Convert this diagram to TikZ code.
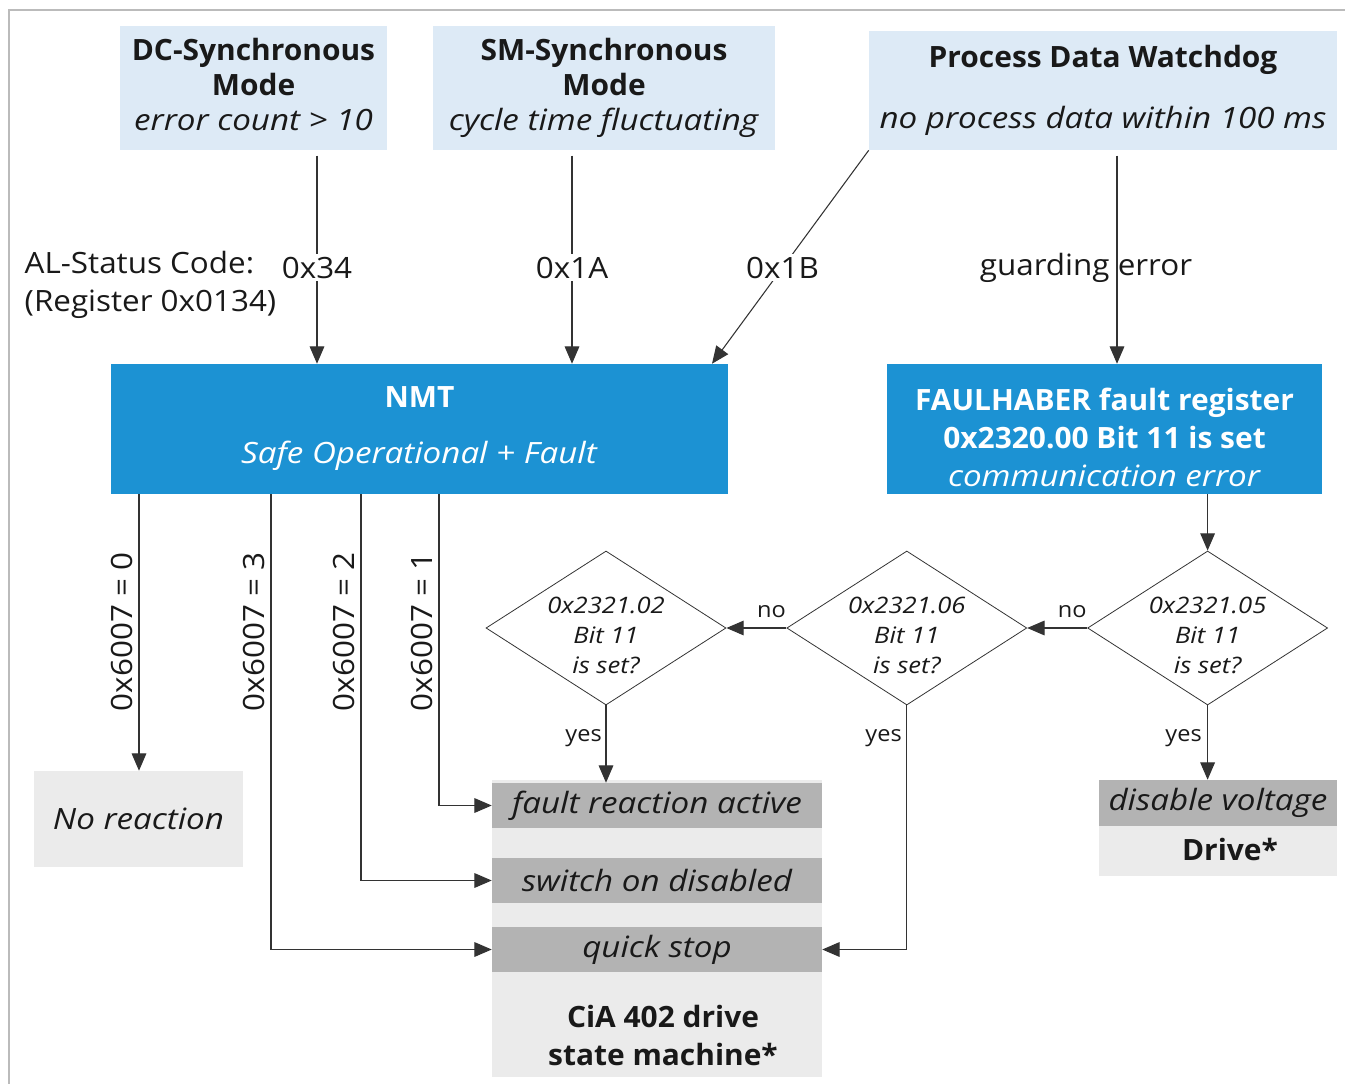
\documentclass[tikz,border=0pt]{standalone}
\usepackage{fontspec}
\setmainfont{Open Sans}[UprightFeatures={FakeStretch=1.07}, BoldFeatures={FakeStretch=1.02}, ItalicFeatures={FakeStretch=1.13}]
\usepackage{xcolor}
\usetikzlibrary{arrows.meta,positioning,shapes.geometric,calc}
\definecolor{srcblue}{HTML}{DDEAF6}
\definecolor{nmtblue}{HTML}{1C92D3}
\definecolor{boxgray}{HTML}{EBEBEB}
\definecolor{bargray}{HTML}{B3B3B3}
\definecolor{framegray}{HTML}{BBBBBB}
\newdimen\pxu \pxu=0.75pt

\begin{document}
\begin{tikzpicture}[x=0.75pt, y=-0.75pt, node distance=60\pxu,
  every node/.style={font=\fontsize{22}{26}\selectfont, text=black!90},
  srcbox/.style={fill=srcblue, align=center, inner sep=0pt},
  nmtbox/.style={fill=nmtblue, text=white, align=center, inner sep=0pt, minimum height=130\pxu},
  graybox/.style={fill=boxgray, inner sep=0pt},
  barbox/.style={fill=bargray, inner sep=0pt, minimum width=330\pxu, minimum height=45\pxu, font=\fontsize{22}{26}\selectfont\itshape},
  query/.style={draw=black!80, line width=0.6pt, diamond, aspect=1.56, inner sep=0pt, minimum width=240\pxu, minimum height=154\pxu},
  querytext/.style={align=center, font=\fontsize{17}{22.5}\selectfont\itshape},
  code/.style={fill=white, inner sep=2pt},
  vcode/.style={rotate=90, anchor=south, inner sep=3pt},
  small/.style={font=\fontsize{16.5}{20}\selectfont, inner sep=3pt},
  arr/.style={draw=black!80, line width=0.8pt, -{Triangle[length=13pt,width=11pt]}}]
\useasboundingbox (0,0) rectangle (1345,1084);
\draw[framegray, line width=1.2pt] (9,1084) -- (9,10) -- (1345,10);

% sources
\node[srcbox, minimum width=267\pxu, minimum height=124\pxu] (dc) at (253.5,88)
  {\textbf{DC-Synchronous}\\\textbf{Mode}\\\textit{error count > 10\vphantom{g}}};
\node[srcbox, minimum width=342\pxu, minimum height=124\pxu] (sm) at (604,88)
  {\textbf{SM-Synchronous}\\\textbf{Mode}\\\textit{cycle time fluctuating}};
\node[srcbox, minimum width=468\pxu, minimum height=119\pxu] (pdw) at (1103,90.5)
  {\textbf{Process Data Watchdog}\\[20pt]\textit{no process data within 100 ms}};
\node[anchor=west, align=left, font=\fontsize{22}{28.5}\selectfont] (alstat) at (20,285)
  {AL-Status Code:\\(Register 0x0134)};

% reactions
\node[nmtbox, minimum width=617\pxu] (nmt) at (419.5,429)
  {\textbf{NMT}\\[16pt]\textit{Safe Operational + Fault}};
\node[nmtbox, minimum width=435\pxu] (faul) at (1104.5,429) {};
\node[align=center, text=white, font=\fontsize{22}{28.5}\selectfont] (faultxt) at (1104.5,437)
  {\textbf{FAULHABER fault register}\\\textbf{0x2320.00 Bit 11 is set}\\\textit{communication error}};

\node[query] (d1) at (606,628) {};
\node[query, right=of d1] (d2) {};
\node[query, right=of d2] (d3) {};
\node[querytext] (q1) at ($(d1)+(0,7)$) {0x2321.02\\Bit 11\\is set?};
\node[querytext] (q2) at ($(d2)+(0,7)$) {0x2321.06\\Bit 11\\is set?};
\node[querytext] (q3) at ($(d3)+(0,7)$) {0x2321.05\\Bit 11\\is set?};

% drive state machine
\node[graybox, minimum width=209\pxu, minimum height=96\pxu, font=\fontsize{22}{26}\selectfont\itshape] (nr) at (138.5,819) {No reaction};
\node[graybox, minimum width=330\pxu, minimum height=297\pxu] (cia) at (657,928.5) {};
\node[barbox] (far) at (657,805.5) {fault reaction active};
\node[barbox] (sod) at (657,880.5) {switch on disabled};
\node[barbox] (qs) at (657,949.5) {quick stop};
\node[align=center, font=\fontsize{22}{28.5}\selectfont\bfseries] (ciatxt) at (663,1035) {CiA 402 drive\\state machine*};
\node[graybox, minimum width=238\pxu, minimum height=96\pxu] (drv) at (1218,828) {};
\node[barbox, minimum width=238\pxu, minimum height=46\pxu] (dv) at (1218,803) {disable voltage};
\node[font=\fontsize{22}{26}\selectfont\bfseries] (drvtxt) at (1230,849) {Drive*};

% status codes
\draw[arr, shorten <=4pt] (dc.south -| 317,0) -- (nmt.north -| 317,0) node[code, pos=0.55] (c34) {0x34};
\draw[arr, shorten <=4pt] (sm.south -| 572,0) -- (nmt.north -| 572,0) node[code, pos=0.55] (c1a) {0x1A};
\draw[arr] (pdw.south west) -- (nmt.north -| 712,0) node[code, pos=0.55] (c1b) {0x1B};
\draw[arr, shorten <=4pt] (pdw.south -| 1117,0) -- (faul.north -| 1117,0);
\node (guard) at (1086,268) {guarding error};

% NMT branches
\draw[arr] (nmt.south -| 139,0) -- (nr.north -| 139,0);
\draw[arr] (nmt.south -| 271,0) |- (qs.west);
\draw[arr] (nmt.south -| 361,0) |- (sod.west);
\draw[arr] (nmt.south -| 439,0) |- (far.west);
\node[vcode] (m0) at (137,632) {0x6007 = 0};
\node[vcode] (m3) at (269,632) {0x6007 = 3};
\node[vcode] (m2) at (359,632) {0x6007 = 2};
\node[vcode] (m1) at (437,632) {0x6007 = 1};

% fault register checks
\draw[arr] (faul.south -| d3.north) -- (d3.north);
\draw[arr] (d3.west) -- (d2.east) node[small, pos=0.25, anchor=south, inner sep=7pt] (n3) {no};
\draw[arr] (d2.west) -- (d1.east) node[small, pos=0.25, anchor=south, inner sep=7pt] (n2) {no};
\draw[arr] (d1.south) -- (d1.south |- far.north);
\draw[arr] (d2.south) |- (qs.east);
\draw[arr] (d3.south) -- (d3.south |- dv.north);
\node[small, anchor=east] (y1) at (606,738) {yes};
\node[small, anchor=east] (y2) at (906,738) {yes};
\node[small, anchor=east] (y3) at (1206,738) {yes};
\end{tikzpicture}
\end{document}
